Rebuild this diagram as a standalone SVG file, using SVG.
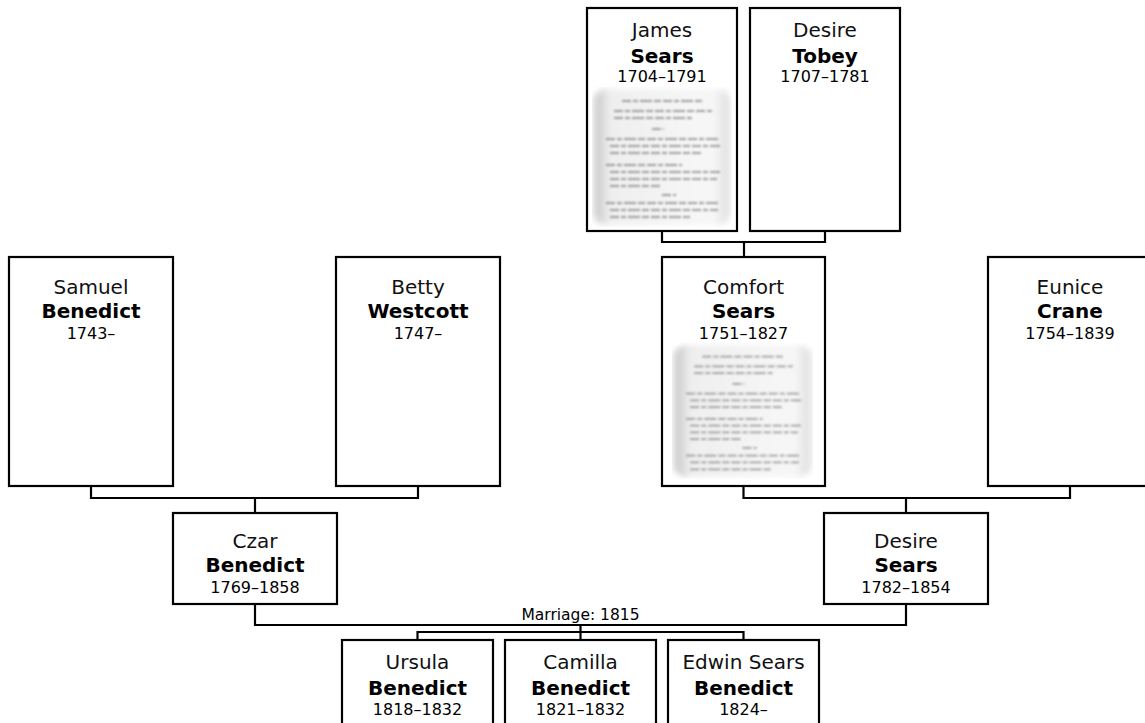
<svg xmlns="http://www.w3.org/2000/svg" xmlns:xlink="http://www.w3.org/1999/xlink" width="1145" height="723" viewBox="0 0 1145 723">
<style>
.box{fill:#fff;stroke:#000;stroke-width:2.2}
.line{fill:none;stroke:#000;stroke-width:2.2}
text{font-family:"DejaVu Sans",Verdana,"Liberation Sans",sans-serif;text-anchor:middle;fill:#000}
.fn{font-size:20px;fill:#111}
.sn{font-size:20px;font-weight:bold}
.dt{font-size:16px}
.lbl{font-size:15.5px}
.tl{stroke:#666;stroke-width:1.8;stroke-dasharray:9 2 5 2 12 2 7 2;opacity:.6}
</style>
<defs>
<filter id="blur" x="-10%" y="-10%" width="120%" height="120%"><feGaussianBlur stdDeviation="3"/></filter>
<filter id="soft"><feGaussianBlur stdDeviation="0.9"/></filter>
<linearGradient id="pg" x1="0" y1="0" x2="1" y2="0">
<stop offset="0" stop-color="#c4c4c4"/><stop offset="0.12" stop-color="#efefef"/><stop offset="0.88" stop-color="#f7f7f7"/><stop offset="1" stop-color="#dcdcdc"/>
</linearGradient>
<symbol id="doc" viewBox="0 0 140 140" preserveAspectRatio="none">
<rect x="2" y="2" width="136" height="136" rx="12" fill="url(#pg)" filter="url(#blur)"/>
<g filter="url(#soft)">
<line class="tl" x1="30" y1="14" x2="110" y2="14"/>
<line class="tl" x1="22" y1="24" x2="120" y2="24"/>
<line class="tl" x1="22" y1="31" x2="100" y2="31"/>
<line class="tl" x1="60" y1="42" x2="72" y2="42"/>
<line class="tl" x1="14" y1="52" x2="128" y2="52"/>
<line class="tl" x1="18" y1="59" x2="128" y2="59"/>
<line class="tl" x1="18" y1="66" x2="110" y2="66"/>
<line class="tl" x1="14" y1="78" x2="90" y2="78"/>
<line class="tl" x1="18" y1="85" x2="128" y2="85"/>
<line class="tl" x1="18" y1="92" x2="125" y2="92"/>
<line class="tl" x1="18" y1="99" x2="70" y2="99"/>
<line class="tl" x1="70" y1="108" x2="84" y2="108"/>
<line class="tl" x1="14" y1="116" x2="128" y2="116"/>
<line class="tl" x1="18" y1="123" x2="126" y2="123"/>
<line class="tl" x1="18" y1="130" x2="100" y2="130"/>
</g>
</symbol>
</defs>
<rect width="1145" height="723" fill="#fff"/>
<g id="connectors">
<polyline class="line" points="662,231 662,242 825,242 825,231"/>
<line class="line" x1="744" y1="242" x2="744" y2="257"/>
<polyline class="line" points="91,486 91,498 418,498 418,486"/>
<line class="line" x1="255" y1="498" x2="255" y2="513"/>
<polyline class="line" points="743.5,486 743.5,498 1070,498 1070,486"/>
<line class="line" x1="906" y1="498" x2="906" y2="513"/>
<polyline class="line" points="255,604 255,625 906,625 906,604"/>
<text class="lbl" x="580.5" y="620">Marriage: 1815</text>
<line class="line" x1="580.5" y1="625" x2="580.5" y2="640"/>
<polyline class="line" points="417.5,640 417.5,632 743.5,632 743.5,640"/>
</g>
<g id="james">
<rect class="box" x="587" y="8" width="150" height="223"/>
<use xlink:href="#doc" x="592" y="87" width="140" height="140"/>
<text class="fn" x="662" y="37">James</text>
<text class="sn" x="662" y="63">Sears</text>
<text class="dt" x="662" y="82">1704–1791</text>
</g>
<g id="tobey">
<rect class="box" x="750" y="8" width="150" height="223"/>
<text class="fn" x="825" y="37">Desire</text>
<text class="sn" x="825" y="63">Tobey</text>
<text class="dt" x="825" y="82">1707–1781</text>
</g>
<g id="samuel">
<rect class="box" x="9" y="257" width="164" height="229"/>
<text class="fn" x="91" y="294">Samuel</text>
<text class="sn" x="91" y="318">Benedict</text>
<text class="dt" x="91" y="339">1743–</text>
</g>
<g id="betty">
<rect class="box" x="336" y="257" width="164" height="229"/>
<text class="fn" x="418" y="294">Betty</text>
<text class="sn" x="418" y="318">Westcott</text>
<text class="dt" x="418" y="339">1747–</text>
</g>
<g id="comfort">
<rect class="box" x="662" y="257" width="163" height="229"/>
<use xlink:href="#doc" x="672" y="343" width="141" height="136"/>
<text class="fn" x="743.5" y="294">Comfort</text>
<text class="sn" x="743.5" y="318">Sears</text>
<text class="dt" x="743.5" y="339">1751–1827</text>
</g>
<g id="eunice">
<rect class="box" x="988" y="257" width="164" height="229"/>
<text class="fn" x="1070" y="294">Eunice</text>
<text class="sn" x="1070" y="318">Crane</text>
<text class="dt" x="1070" y="339">1754–1839</text>
</g>
<g id="czar">
<rect class="box" x="173" y="513" width="164" height="91"/>
<text class="fn" x="255" y="548">Czar</text>
<text class="sn" x="255" y="572">Benedict</text>
<text class="dt" x="255" y="593">1769–1858</text>
</g>
<g id="desire-sears">
<rect class="box" x="824" y="513" width="164" height="91"/>
<text class="fn" x="906" y="548">Desire</text>
<text class="sn" x="906" y="572">Sears</text>
<text class="dt" x="906" y="593">1782–1854</text>
</g>
<g id="ursula">
<rect class="box" x="342" y="640" width="151" height="110"/>
<text class="fn" x="417.5" y="669">Ursula</text>
<text class="sn" x="417.5" y="695">Benedict</text>
<text class="dt" x="417.5" y="715">1818–1832</text>
</g>
<g id="camilla">
<rect class="box" x="505" y="640" width="151" height="110"/>
<text class="fn" x="580.5" y="669">Camilla</text>
<text class="sn" x="580.5" y="695">Benedict</text>
<text class="dt" x="580.5" y="715">1821–1832</text>
</g>
<g id="edwin">
<rect class="box" x="668" y="640" width="151" height="110"/>
<text class="fn" x="743.5" y="669">Edwin Sears</text>
<text class="sn" x="743.5" y="695">Benedict</text>
<text class="dt" x="743.5" y="715">1824–</text>
</g>
</svg>
